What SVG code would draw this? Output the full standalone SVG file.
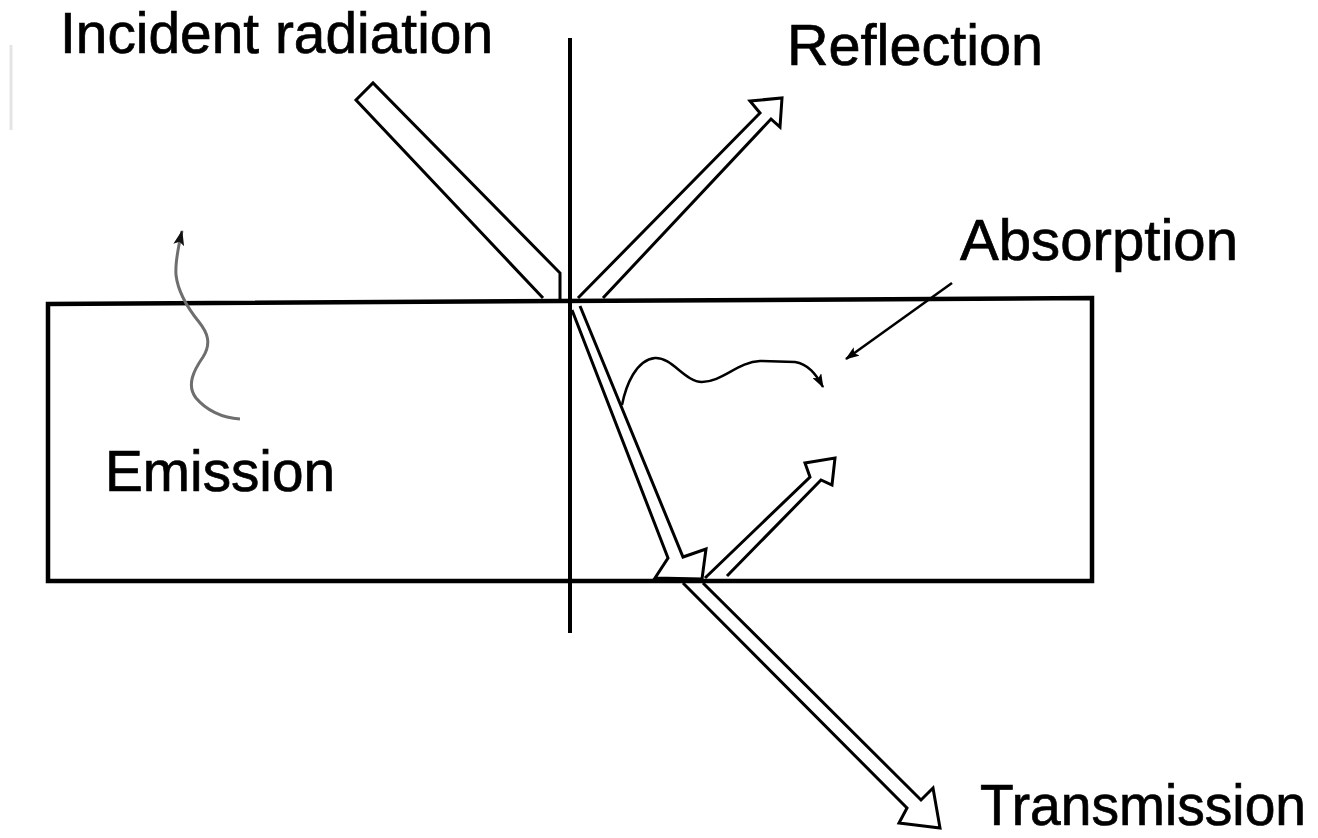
<svg xmlns="http://www.w3.org/2000/svg" width="1318" height="838" viewBox="0 0 1318 838">
  <style>
    .lbl { font-family: "Liberation Sans", Arial, sans-serif; font-size: 57px; fill: #000; stroke: #000; stroke-width: 0.7; }
    .frame { fill: none; stroke: #000; stroke-width: 4.5; stroke-linejoin: miter; }
    .axis { fill: none; stroke: #000; stroke-width: 4; }
    .ray { fill: none; stroke: #000; stroke-width: 3; stroke-linejoin: miter; }
    .wave { fill: none; stroke: #000; stroke-width: 2.5; }
    .wave-gray { fill: none; stroke: #6e6e6e; stroke-width: 3; }
  </style>
  <defs>
    <marker id="tip" viewBox="0 0 14 10" refX="13" refY="5" markerWidth="14" markerHeight="10" markerUnits="userSpaceOnUse" orient="auto">
      <path d="M0,0 L14,5 L0,10 L3,5 z" fill="#000"/>
    </marker>
    <marker id="tip-gray" viewBox="0 0 14 10" refX="13" refY="5" markerWidth="16" markerHeight="11" markerUnits="userSpaceOnUse" orient="auto">
      <path d="M0,0 L14,5 L0,10 L3,5 z" fill="#111"/>
    </marker>
  </defs>
  <rect x="0" y="0" width="1318" height="838" fill="#fff"/>

  <!-- faint edge artefact -->
  <line x1="11" y1="45" x2="11" y2="130" stroke="#e4e4e4" stroke-width="3"/>

  <g id="slab">
    <path class="frame" d="M48,304 L1092,298 L1092,581 L48,581 Z"/>
  </g>

  <g id="normal">
    <line class="axis" x1="570" y1="38" x2="570" y2="633"/>
  </g>

  <g id="connectors">
    <path id="incident" class="ray" d="M543,298 L356,100 L373,83 L560,273 L560,299"/>
    <path id="reflection" class="ray" d="M578,298 L760,113 L750,101 L782,98 L780,127 L771,119 L603,298"/>
    <path id="refracted" class="ray" d="M572,310 L668,558 L655,578 L702,579 L706,549 L683,557 L580,306"/>
    <path id="internal" class="ray" d="M705,578 L810,477 L805,463 L835,458 L832,485 L821,480 L727,576"/>
    <path id="transmission" class="ray" d="M683,583 L907,808 L899,823 L940,828 L933,788 L921,800 L703,583"/>
    <path id="absorb-wave" class="wave" marker-end="url(#tip)" d="M622,405 C626,385 636,360 655,358 C672,357 685,382 702,382 C722,382 738,362 760,361 L795,362 C808,364 816,374 823,387"/>
    <path id="absorb-pointer" class="wave" marker-end="url(#tip)" d="M952,283 L846,359"/>
    <path id="emit-wave" class="wave-gray" marker-end="url(#tip-gray)" d="M240,419 C222,418 206,410 196,398 C186,385 194,370 203,357 C212,343 207,332 199,322 C186,306 178,292 176,275 C175,262 178,248 182,231"/>
  </g>

  <g id="label-incident"><text class="lbl" x="60" y="53" textLength="433" lengthAdjust="spacingAndGlyphs">Incident radiation</text></g>
  <g id="label-reflection"><text class="lbl" x="787" y="65" textLength="256" lengthAdjust="spacingAndGlyphs">Reflection</text></g>
  <g id="label-absorption"><text class="lbl" x="960" y="260" textLength="278" lengthAdjust="spacingAndGlyphs">Absorption</text></g>
  <g id="label-emission"><text class="lbl" x="105" y="491" textLength="230" lengthAdjust="spacingAndGlyphs">Emission</text></g>
  <g id="label-transmission"><text class="lbl" x="980" y="825" textLength="326" lengthAdjust="spacingAndGlyphs">Transmission</text></g>
</svg>
